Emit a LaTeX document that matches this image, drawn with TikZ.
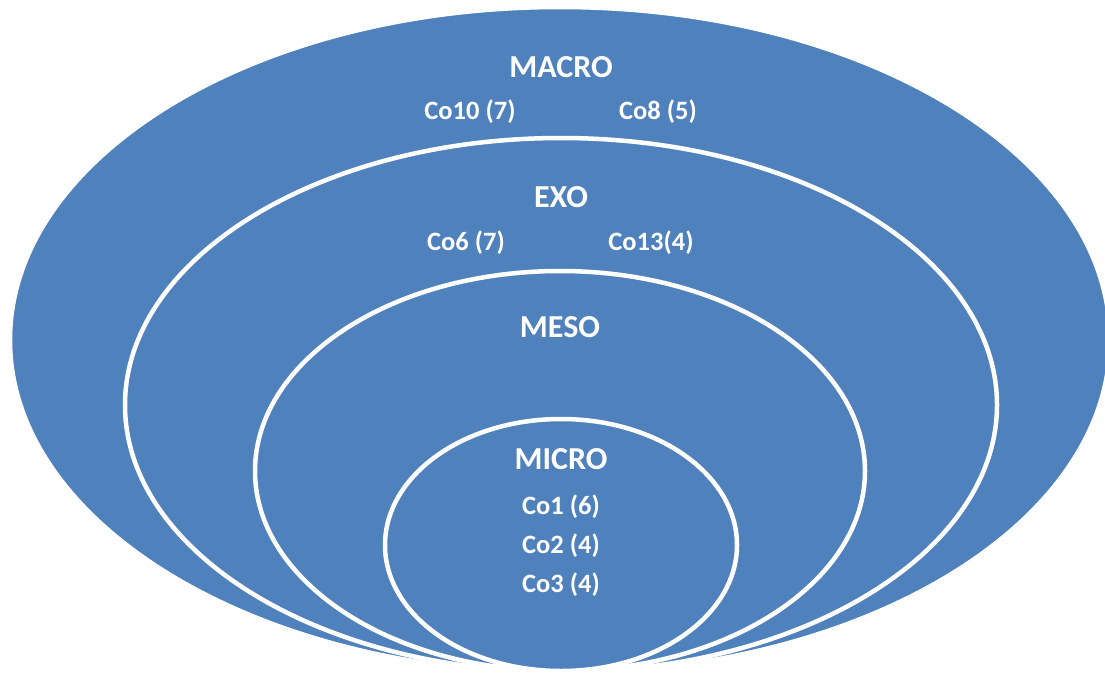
\documentclass[tikz,border=0pt]{standalone}
\usepackage{fontspec}
\setmainfont{Carlito}
\definecolor{ringblue}{HTML}{4F81BD}
\begin{document}
\begin{tikzpicture}[x=1pt,y=-1pt,
  ring/.style={fill=ringblue,draw=white,line width=4.5pt},
  title/.style={text=white,font=\bfseries\fontsize{32}{38}\selectfont,inner sep=0pt},
  item/.style={text=white,font=\bfseries\fontsize{26.5}{31}\selectfont,inner sep=0pt}]
\useasboundingbox (0,0) rectangle (1105,672);
\clip (0,0) rectangle (1105,672);
\path[ring] (560,340) ellipse [x radius=550, y radius=333];
\path[ring] (561,405) ellipse [x radius=436, y radius=267];
\path[ring] (560,471) ellipse [x radius=305, y radius=200];
\path[ring] (561,545) ellipse [x radius=176, y radius=126];
\node[title] (macro) at (561,67) {MACRO};
\node[item] (co10) at (470,112) {Co10 (7)};
\node[item] (co8) at (658,112) {Co8 (5)};
\node[title] (exo) at (561,197) {EXO};
\node[item] (co6) at (466,243) {Co6 (7)};
\node[item] (co13) at (651,243) {Co13(4)};
\node[title] (meso) at (560,327) {MESO};
\node[title] (micro) at (561,459) {MICRO};
\node[item] (co1) at (561,507) {Co1 (6)};
\node[item] (co2) at (561,546) {Co2 (4)};
\node[item] (co3) at (561,585) {Co3 (4)};
\end{tikzpicture}
\end{document}
